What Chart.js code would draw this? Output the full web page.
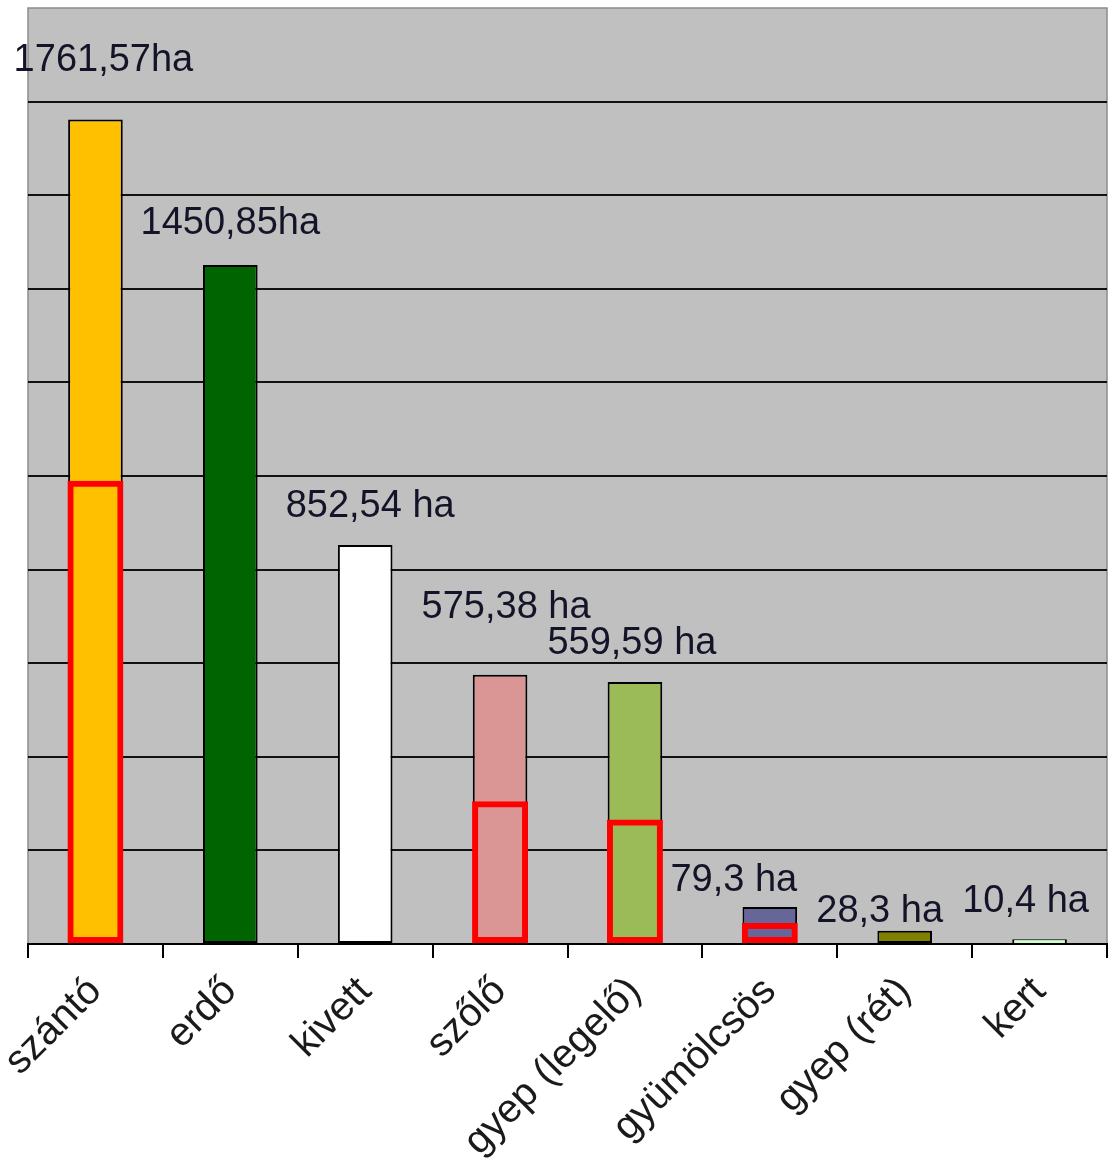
<!DOCTYPE html>
<html>
<head>
<meta charset="utf-8">
<script src="https://cdn.jsdelivr.net/npm/chart.js@4"></script>
<style>
  html, body { margin: 0; padding: 0; background: #ffffff; }
  #wrap { width: 1112px; height: 1164px; position: relative; }
</style>
</head>
<body>
<div id="wrap"><canvas id="landChart"></canvas></div>
<script>
// Land use categories and areas (ha)
const categories = ['szántó', 'erdő', 'kivett', 'szőlő', 'gyep (legelő)', 'gyümölcsös', 'gyep (rét)', 'kert'];
const areas = [1761.57, 1450.85, 852.54, 575.38, 559.59, 79.3, 28.3, 10.4];
const areaLabels = ['1761,57ha', '1450,85ha', '852,54 ha', '575,38 ha', '559,59 ha', '79,3 ha', '28,3 ha', '10,4 ha'];
// Highlighted part of some categories (red frames)
const highlighted = [990, null, null, 305, 266, 45, null, null];
const yTicks = { min: 0, max: 2000, step: 200 };

const barColors = ['#FFC000', '#006400', '#FFFFFF', '#D99694', '#9BBB59', '#666699', '#808000', '#CCFFCC'];

// label placement relative to bar top (px)
const labelShift = [[8, -59], [0, -41], [5, -38], [6, -67], [-3, -39], [-36, -26], [-25, -19], [-14, -38]];

const plotBackground = {
    id: 'plotBackground',
    beforeDraw(chart) {
        const { ctx, chartArea: a } = chart;
        ctx.save();
        ctx.fillStyle = '#C0C0C0';
        ctx.fillRect(a.left, a.top, a.right - a.left, a.bottom - a.top);
        ctx.strokeStyle = '#8c8c8c';
        ctx.lineWidth = 1.5;
        ctx.beginPath();
        ctx.moveTo(a.left, a.bottom);
        ctx.lineTo(a.left, a.top);
        ctx.lineTo(a.right, a.top);
        ctx.lineTo(a.right, a.bottom);
        ctx.stroke();
        ctx.restore();
    }
};

const valueLabels = {
    id: 'valueLabels',
    afterDatasetsDraw(chart) {
        const ctx = chart.ctx;
        const meta = chart.getDatasetMeta(1);
        ctx.save();
        ctx.font = '38px "Liberation Sans", Arial, sans-serif';
        ctx.fillStyle = '#141428';
        ctx.textAlign = 'center';
        ctx.textBaseline = 'middle';
        meta.data.forEach((bar, i) => {
            ctx.fillText(areaLabels[i], bar.x + labelShift[i][0], bar.y + labelShift[i][1]);
        });
        ctx.restore();
    }
};

new Chart(document.getElementById('landChart'), {
    type: 'bar',
    data: {
        labels: categories,
        datasets: [
            {
                label: 'kiemelt',
                data: highlighted,
                backgroundColor: 'rgba(0,0,0,0)',
                borderColor: '#FF0000',
                borderWidth: 6,
                borderSkipped: false,
                grouped: false,
                order: 0,
                categoryPercentage: 1,
                barPercentage: 0.415
            },
            {
                label: 'terület',
                data: areas,
                backgroundColor: barColors,
                borderColor: '#000000',
                // thin outline on the tiny bars so their fill stays visible
                borderWidth: ctx => areas[ctx.dataIndex] < 20 ? { top: 1, left: 2, right: 2, bottom: 0 } : 2,
                borderSkipped: false,
                grouped: false,
                order: 1,
                categoryPercentage: 1,
                barPercentage: 0.405
            }
        ]
    },
    options: {
        responsive: true,
        maintainAspectRatio: false,
        animation: false,
        layout: { padding: { left: 28, top: 8, right: 5, bottom: 0 } },
        plugins: {
            legend: { display: false },
            tooltip: { enabled: false }
        },
        scales: {
            x: {
                afterFit(scale) { scale.height = 220; },
                border: { color: '#000000', width: 2 },
                grid: {
                    offset: true,
                    drawOnChartArea: false,
                    drawTicks: true,
                    tickLength: 14,
                    color: '#000000',
                    lineWidth: 2
                },
                ticks: {
                    color: '#1a1a1a',
                    font: { family: '"Liberation Sans", Arial, sans-serif', size: 40 },
                    maxRotation: 45,
                    minRotation: 45,
                    padding: 10
                }
            },
            y: {
                min: yTicks.min,
                max: yTicks.max,
                afterFit(scale) { scale.width = 0; },
                border: { display: false },
                ticks: { display: false, stepSize: yTicks.step },
                grid: {
                    drawTicks: false,
                    lineWidth: 2,
                    color: ctx => (ctx.tick.value === yTicks.min || ctx.tick.value === yTicks.max) ? 'rgba(0,0,0,0)' : '#111111'
                }
            }
        }
    },
    plugins: [plotBackground, valueLabels]
});
</script>
</body>
</html>
